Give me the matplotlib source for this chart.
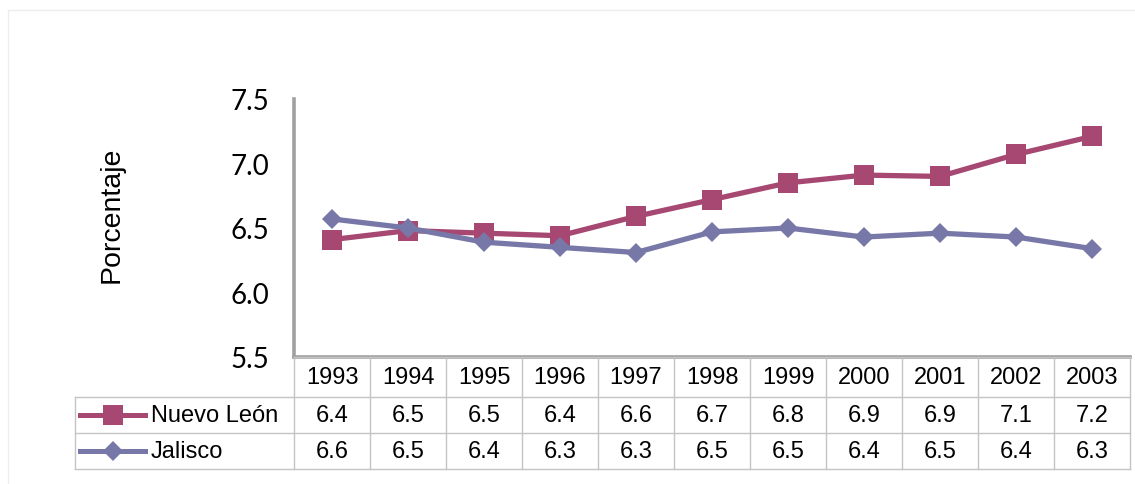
import matplotlib
matplotlib.use("Agg")
import matplotlib.pyplot as plt
from matplotlib.lines import Line2D
from matplotlib.patches import Rectangle
from matplotlib.transforms import blended_transform_factory

# datos
anios = ["1993", "1994", "1995", "1996", "1997", "1998", "1999", "2000", "2001", "2002", "2003"]
nuevo_leon = [6.41, 6.48, 6.46, 6.44, 6.59, 6.72, 6.85, 6.91, 6.90, 7.07, 7.21]
jalisco = [6.57, 6.50, 6.39, 6.35, 6.31, 6.47, 6.50, 6.43, 6.46, 6.43, 6.34]
tabla_nl = ["6.4", "6.5", "6.5", "6.4", "6.6", "6.7", "6.8", "6.9", "6.9", "7.1", "7.2"]
tabla_jal = ["6.6", "6.5", "6.4", "6.3", "6.3", "6.5", "6.5", "6.4", "6.5", "6.4", "6.3"]
series = ["Nuevo León", "Jalisco"]
yticks = [5.5, 6.0, 6.5, 7.0, 7.5]

color_nl = "#A64872"
color_jal = "#7878A8"
gris = "#A0A0A0"
borde = "#C4C4C4"

W, H = 1135, 485
fig = plt.figure(figsize=(W / 100, H / 100), dpi=100)

def fy(yp):
    return 1 - yp / H

def fx(xp):
    return xp / W

# marco muy tenue del area del grafico
fig.patches.append(Rectangle((fx(8), -0.05), 1.2, fy(11) + 0.05, transform=fig.transFigure,
                             fill=False, edgecolor="#EDEDED", linewidth=1))

x0, x1 = 294, 1130
ytop, ybot = 100, 358
ax = fig.add_axes([fx(x0), fy(ybot), (x1 - x0) / W, (ybot - ytop) / H])

x = list(range(len(anios)))
ax.plot(x, nuevo_leon, color=color_nl, lw=3.8, marker="s", markersize=15,
        markeredgewidth=0, solid_joinstyle="round")
ax.plot(x, jalisco, color=color_jal, lw=3.8, marker="D", markersize=10.5,
        markeredgewidth=0, solid_joinstyle="round")

ax.set_xlim(-0.5, len(anios) - 0.5)
ax.set_ylim(5.5, 7.5)
ax.set_yticks(yticks)
ax.set_yticklabels([f"{v:.1f}" for v in yticks], fontsize=20, family="Lato")
ax.tick_params(axis="y", length=0, pad=18)
ax.set_xticks([])
for s in ["top", "right"]:
    ax.spines[s].set_visible(False)
for s in ["left", "bottom"]:
    ax.spines[s].set_color(gris)
    ax.spines[s].set_linewidth(2.6)
ax.set_ylabel("Porcentaje", fontsize=20.5, family="Liberation Sans")
ax.yaxis.set_label_coords((125 - x0) / (x1 - x0), 0.555)

# tabla de datos debajo del eje
tr = blended_transform_factory(ax.transData, fig.transFigure)
filas = [358, 398, 434, 470]
tab_left = 75
fuente = dict(fontsize=17, family="Liberation Sans", ha="center", va="center")

# lineas horizontales
fig.add_artist(Line2D([fx(x0), fx(x1)], [fy(filas[0])] * 2, transform=fig.transFigure,
                      color=borde, lw=1))
for yy in filas[1:]:
    fig.add_artist(Line2D([fx(tab_left), fx(x1)], [fy(yy)] * 2, transform=fig.transFigure,
                          color=borde, lw=1))
# lineas verticales
for i in range(len(anios) + 1):
    fig.add_artist(Line2D([i - 0.5, i - 0.5], [fy(filas[0]), fy(filas[-1])], transform=tr,
                          color=borde, lw=1))
fig.add_artist(Line2D([fx(tab_left)] * 2, [fy(filas[1]), fy(filas[-1])],
                      transform=fig.transFigure, color=borde, lw=1))

for i, a in enumerate(anios):
    ax.text(i, fy((filas[0] + filas[1]) / 2), a, transform=tr, **fuente)
    ax.text(i, fy((filas[1] + filas[2]) / 2), tabla_nl[i], transform=tr, **fuente)
    ax.text(i, fy((filas[2] + filas[3]) / 2), tabla_jal[i], transform=tr, **fuente)

# etiquetas de fila con su icono de leyenda
for k, (nombre, col, mk, ms) in enumerate([(series[0], color_nl, "s", 14),
                                           (series[1], color_jal, "D", 10)]):
    yy = fy((filas[k + 1] + filas[k + 2]) / 2)
    fig.add_artist(Line2D([fx(80), fx(145)], [yy, yy], transform=fig.transFigure,
                          color=col, lw=3.6))
    fig.add_artist(Line2D([fx(113)], [yy], transform=fig.transFigure, color=col,
                          marker=mk, markersize=ms, markeredgewidth=0))
    fig.text(fx(151), yy, nombre, fontsize=17, family="Liberation Sans",
             ha="left", va="center")

fig.savefig("out.png", dpi=100)
